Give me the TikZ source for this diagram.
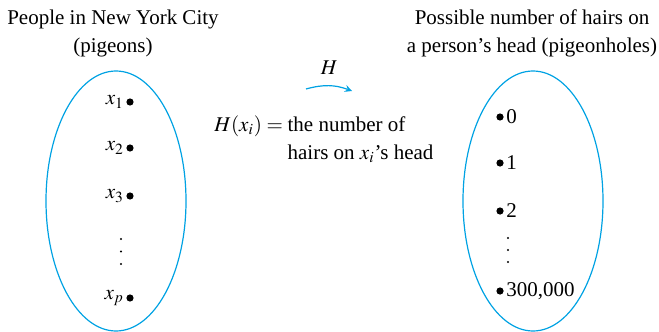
\documentclass[tikz,border=0pt]{standalone}
\usepackage{mathptmx}
\usepackage[no-math]{fontspec}
\setmainfont{Liberation Serif}
\usetikzlibrary{shapes.geometric}
\definecolor{pigeonblue}{RGB}{0,162,227}
\begin{document}
\begin{tikzpicture}[x=0.5pt, y=-0.5pt, font=\fontsize{10.5}{14}\selectfont\rmfamily,
		dot/.style = {circle, fill, inner sep=0pt, minimum size=3.6pt},
		set/.style = {draw=pigeonblue, line width=0.6pt, ellipse, minimum width=70pt, minimum height=130pt, inner sep=0pt},
		pigeon/.style = {dot, label={[inner sep=0.8pt]left:#1}},
		hole/.style = {dot, label={[inner sep=1pt]right:#1}}]
		\useasboundingbox (0,0) rectangle (659,332);
		% titles
		\node (leftTitle) at (113,33) [align=center] {People in New York City\\(pigeons)};
		\node (rightTitle) at (532,33) [align=center] {Possible number of hairs on\\a person's head (pigeonholes)};
		% the two sets
		\node (pigeons) at (116,201) [set] {};
		\node (holes) at (533,201) [set] {};
		% pigeons
		\node (x1) at (130,102) [pigeon=$x_1$] {};
		\node (x2) at (130,148) [pigeon=$x_2$] {};
		\node (x3) at (130,196) [pigeon=$x_3$] {};
		\node (xp) at (130,298) [pigeon=$x_p$] {};
		% pigeonholes
		\node (h0) at (500,117) [hole=0] {};
		\node (h1) at (500,163) [hole=1] {};
		\node (h2) at (500,211) [hole=2] {};
		\node (hlast) at (500,291) [hole={300,000}] {};
		% vertical dots
		\foreach \k in {0,1,2} {
			\fill (121,239+12.5*\k) circle (0.55pt);
			\fill (508,238+12*\k) circle (0.55pt);
		}
		% the map
		\coordinate (mapFrom) at (306,89);
		\coordinate (mapTo) at (352,91);
		\draw [pigeonblue, line width=0.6pt, -stealth] (mapFrom) to [bend left=18] node [above=2pt, black] {$H$} (mapTo);
		\node (rule) at (214,140) [anchor=west, inner sep=0pt] {\begin{tabular}{@{}r@{}l@{}}
				$H(x_i) = {}$ & the number of\\
				& hairs on $x_i$'s head
			\end{tabular}};
	\end{tikzpicture}
\end{document}
